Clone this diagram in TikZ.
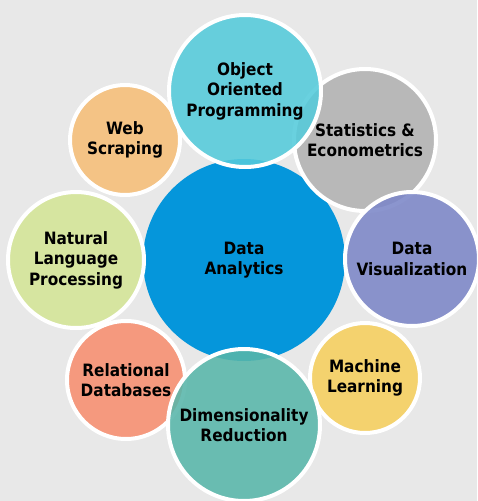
\documentclass[tikz,border=0pt]{standalone}
\usepackage{fontspec}
\setmainfont{DejaVu Sans Condensed}
\begin{document}
\begin{tikzpicture}[x=1pt,y=-1pt,
  bubble/.style={circle, draw=white, line width=4pt, fill opacity=0.88, text opacity=1,
    align=center, inner sep=0pt, font=\bfseries\fontsize{17}{20.5}\selectfont, text=black},
  hub/.style={circle, fill opacity=1, align=center, inner sep=0pt,
    font=\bfseries\fontsize{17}{20.5}\selectfont, text=black}]
\definecolor{bgc}{HTML}{E8E8E8}
\definecolor{cDA}{HTML}{0596DB}
\definecolor{cOOP}{HTML}{55CBDB}
\definecolor{cST}{HTML}{B2B2B2}
\definecolor{cDV}{HTML}{7C87C8}
\definecolor{cML}{HTML}{F6CF5E}
\definecolor{cDR}{HTML}{58B6AA}
\definecolor{cRD}{HTML}{F78F70}
\definecolor{cNL}{HTML}{D4E597}
\definecolor{cWS}{HTML}{F6BF78}
\fill[bgc] (0,0) rectangle (477,501);
\useasboundingbox (0,0) rectangle (477,501);
\node[hub, fill=cDA, minimum size=202pt] (da) at (244,260) {Data\\Analytics};
\node[bubble, fill=cWS, minimum size=110pt] (ws) at (125,140) {Web\\Scraping};
\node[bubble, fill=cNL, minimum size=136pt] (nl) at (76,260) {Natural\\Language\\Processing};
\node[bubble, fill=cRD, minimum size=118pt] (rd) at (126,380) {Relational\\Databases};
\node[bubble, fill=cST, minimum size=142pt] (st) at (365,140) {Statistics \&\\Econometrics};
\node[bubble, fill=cDV, minimum size=134pt] (dv) at (412,259) {Data\\Visualization};
\node[bubble, fill=cML, minimum size=110pt] (ml) at (365,378) {Machine\\Learning};
\node[bubble, fill=cOOP, minimum size=152pt] (oop) at (245,91) {Object\\Oriented\\Programming};
\node[bubble, fill=cDR, minimum size=152pt] (dr) at (244,425) {Dimensionality\\Reduction};
\end{tikzpicture}
\end{document}
